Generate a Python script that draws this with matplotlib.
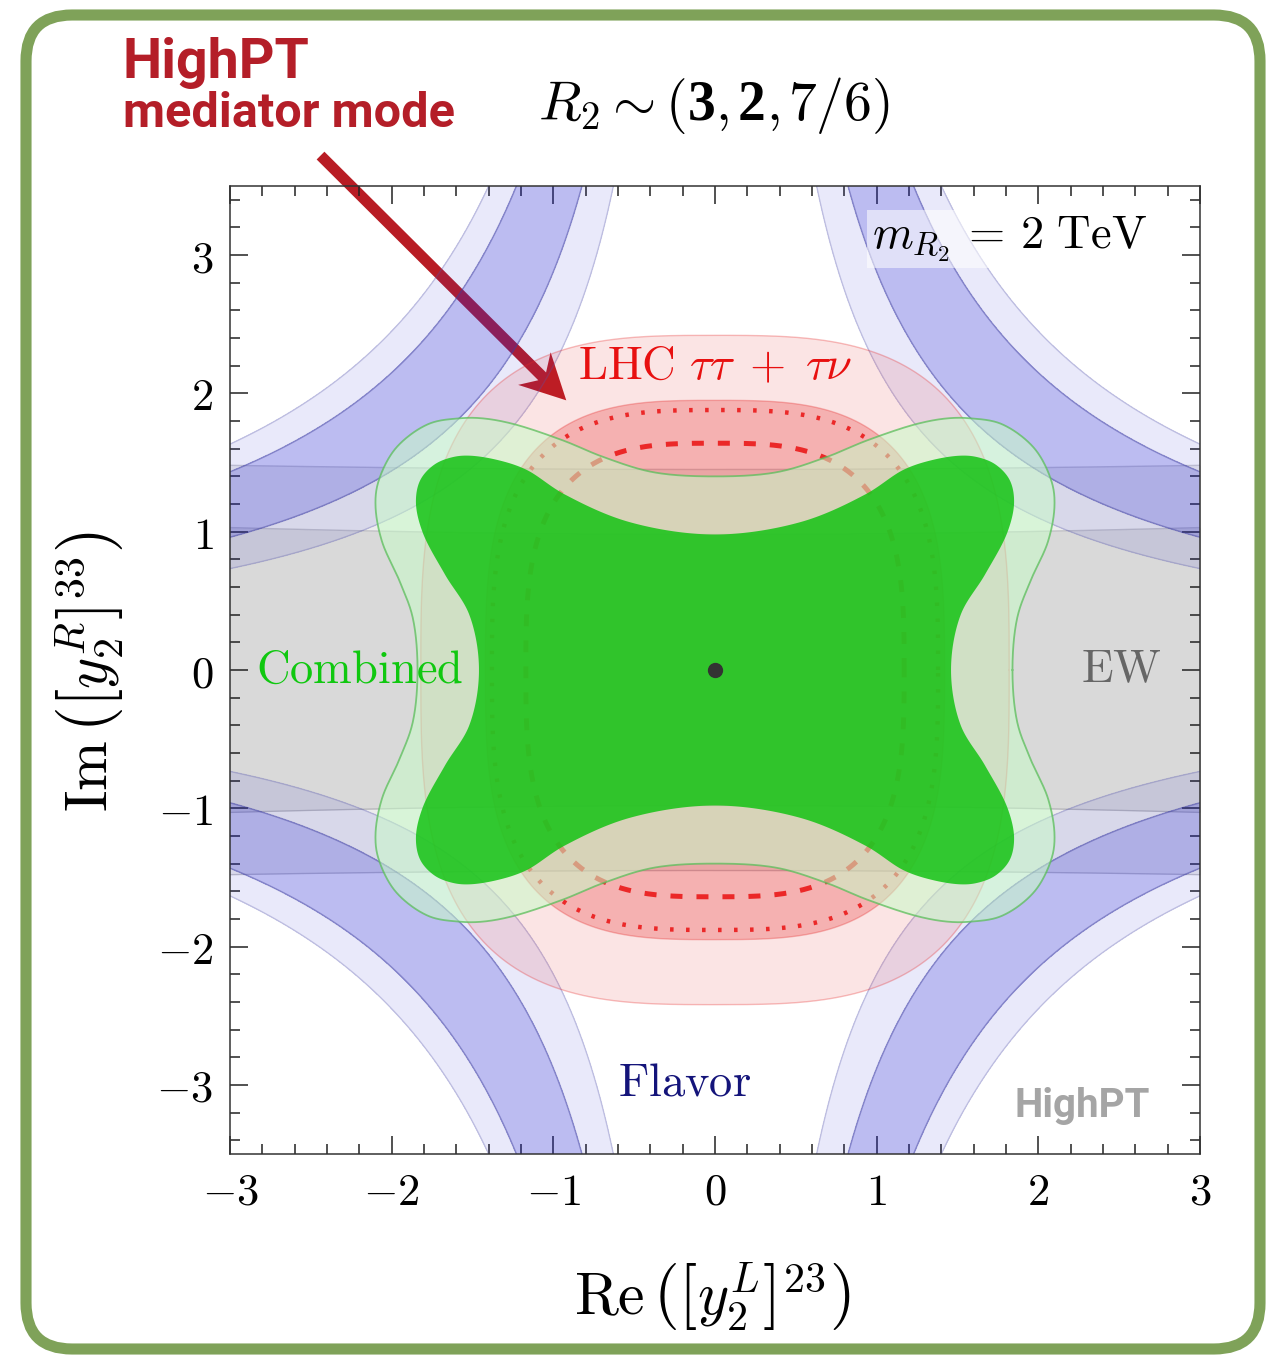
import numpy as np
import matplotlib
matplotlib.use("Agg")
import matplotlib.pyplot as plt
from matplotlib.patches import FancyBboxPatch, Polygon
from matplotlib.transforms import IdentityTransform
from matplotlib.ticker import MultipleLocator, FuncFormatter

plt.rcParams['mathtext.fontset'] = 'cm'
plt.rcParams['font.family'] = ['DejaVu Sans']

W, H, DPI = 1275, 1357, 100

# ---------------- data ----------------
x_range = (-3.0, 3.0)
y_range = (-3.5, 3.5)

# Flavor: allowed band in |Re(yL) * Im(yR)|
flavor_1sigma = (2.88, 4.30)
flavor_2sigma = (2.20, 4.90)

# EW: allowed half-width in Im(yR) at Re(yL)=0 and at |Re(yL)|=3
ew_1sigma = (0.98, 1.03)
ew_2sigma = (1.45, 1.48)

# LHC tau tau + tau nu: semi-axes of the exclusion contours
lhc_2sigma = (1.82, 2.42)
lhc_1sigma = (1.42, 1.95)
lhc_dotted = (1.38, 1.88)
lhc_dashed = (1.17, 1.64)
lhc_power = 3.1

# Combined fit contours, first quadrant (from the x axis to the y axis)
comb2_x = [1.84, 1.87, 1.95, 2.06, 2.10, 2.08, 1.97, 1.77, 1.58, 1.44, 1.25, 0.94, 0.69, 0.38, 0.00]
comb2_y = [0.00, 0.38, 0.64, 0.93, 1.19, 1.37, 1.61, 1.78, 1.82, 1.82, 1.78, 1.66, 1.54, 1.43, 1.40]
comb1_x = [1.46, 1.52, 1.67, 1.81, 1.85, 1.82, 1.73, 1.62, 1.52, 1.35, 1.17, 0.93, 0.53, 0.00]
comb1_y = [0.00, 0.40, 0.69, 1.00, 1.22, 1.38, 1.49, 1.54, 1.55, 1.52, 1.45, 1.27, 1.07, 0.98]

sm_point = (0.0, 0.0)

# arrow of the mediator-mode callout (data coordinates)
arrow_tail = (-2.44, 3.72)
arrow_tip = (-0.92, 1.95)


# ---------------- helpers ----------------
def mirror_quadrant(qx, qy):
    qx = np.asarray(qx, float)
    qy = np.asarray(qy, float)
    q1 = np.c_[qx, qy]
    q2 = np.c_[-qx[::-1], qy[::-1]][1:]
    q3 = np.c_[-qx, -qy][1:]
    q4 = np.c_[qx[::-1], -qy[::-1]][1:-1]
    return np.vstack([q1, q2, q3, q4])


def catmull_rom_closed(P, n=30, alpha=0.5):
    P = np.asarray(P, float)
    N = len(P)
    out = []
    for i in range(N):
        p0, p1, p2, p3 = P[(i - 1) % N], P[i], P[(i + 1) % N], P[(i + 2) % N]
        t0 = 0.0
        t1 = t0 + np.linalg.norm(p1 - p0) ** alpha
        t2 = t1 + np.linalg.norm(p2 - p1) ** alpha
        t3 = t2 + np.linalg.norm(p3 - p2) ** alpha
        t = np.linspace(t1, t2, n, endpoint=False)[:, None]
        A1 = (t1 - t) / (t1 - t0) * p0 + (t - t0) / (t1 - t0) * p1
        A2 = (t2 - t) / (t2 - t1) * p1 + (t - t1) / (t2 - t1) * p2
        A3 = (t3 - t) / (t3 - t2) * p2 + (t - t2) / (t3 - t2) * p3
        B1 = (t2 - t) / (t2 - t0) * A1 + (t - t0) / (t2 - t0) * A2
        B2 = (t3 - t) / (t3 - t1) * A2 + (t - t1) / (t3 - t1) * A3
        out.append((t2 - t) / (t2 - t1) * B1 + (t - t1) / (t2 - t1) * B2)
    out = np.vstack(out)
    return np.vstack([out, out[:1]])


def superellipse(ab, p, n=720):
    a, b = ab
    th = np.linspace(0, 2 * np.pi, n)
    c, s = np.cos(th), np.sin(th)
    return (a * np.sign(c) * np.abs(c) ** (2 / p),
            b * np.sign(s) * np.abs(s) ** (2 / p))


def ew_edge(widths, x):
    w0, w3 = widths
    k = (w3 ** 2 - w0 ** 2) / 9.0
    return np.sqrt(w0 ** 2 + k * x ** 2)


def text_row(fig, parts, x_center, y_base, fontsize):
    """Place text pieces side by side on one baseline (pixel coordinates)."""
    renderer = fig.canvas.get_renderer()
    items, total = [], 0.0
    for s, kw, gap in parts:
        t = fig.text(0, y_base, s, fontsize=fontsize, va='baseline', ha='left',
                     transform=IdentityTransform(), **kw)
        w = t.get_window_extent(renderer).width
        items.append((t, total))
        total += w + gap
    x0 = x_center - total / 2
    for t, off in items:
        t.set_x(x0 + off)


# ---------------- figure ----------------
fig = plt.figure(figsize=(W / DPI, H / DPI), dpi=DPI)
ax = fig.add_axes([230 / W, 1 - 1154 / H, 970 / W, 968 / H])
ax.set_xlim(*x_range)
ax.set_ylim(*y_range)

# EW band
xs = np.linspace(-3.1, 3.1, 400)
gray = (0.5, 0.5, 0.5)
for widths, a in [(ew_2sigma, 0.14), (ew_1sigma, 0.175)]:
    e = ew_edge(widths, xs)
    ax.fill_between(xs, -e, e, color=gray, alpha=a, lw=0, zorder=1)
    ax.plot(xs, e, color=(0.45, 0.45, 0.5), alpha=0.35, lw=1.0, zorder=1.1)
    ax.plot(xs, -e, color=(0.45, 0.45, 0.5), alpha=0.35, lw=1.0, zorder=1.1)

# callout arrow, laid under the translucent regions
fig.canvas.draw()
p_tail = ax.transData.transform(arrow_tail)
p_tip = ax.transData.transform(arrow_tip)
d = (p_tip - p_tail) / np.linalg.norm(p_tip - p_tail)
nrm = np.array([-d[1], d[0]])
hw_shaft, hw_head, l_head, l_notch = 5.5, 23.0, 45.0, 34.0
pts = [p_tip,
       p_tip - d * l_head + nrm * hw_head,
       p_tip - d * l_notch + nrm * hw_shaft,
       p_tail + nrm * hw_shaft,
       p_tail - nrm * hw_shaft,
       p_tip - d * l_notch - nrm * hw_shaft,
       p_tip - d * l_head - nrm * hw_head]
pts = ax.transData.inverted().transform(np.array(pts))
ax.add_patch(Polygon(pts, closed=True, fc='#B81C24', ec='none', zorder=1.5, clip_on=False))

# Flavor bands
gx = np.linspace(-3.05, 3.05, 900)
gy = np.linspace(-3.6, 3.6, 1000)
GX, GY = np.meshgrid(gx, gy)
Z = np.abs(GX * GY)
blue = (40 / 255, 40 / 255, 215 / 255)
ax.contourf(GX, GY, Z, levels=list(flavor_2sigma), colors=[blue], alpha=0.10, zorder=2)
ax.contour(GX, GY, Z, levels=list(flavor_2sigma), colors=[(0.35, 0.35, 0.65)], alpha=0.3,
           linewidths=1.0, zorder=2.1)
ax.contourf(GX, GY, Z, levels=list(flavor_1sigma), colors=[blue], alpha=0.23, zorder=2.2)
ax.contour(GX, GY, Z, levels=list(flavor_1sigma), colors=[(0.25, 0.25, 0.6)], alpha=0.45,
           linewidths=1.1, zorder=2.3)

# LHC contours
red = (230 / 255, 40 / 255, 40 / 255)
for ab, a in [(lhc_2sigma, 0.125), (lhc_1sigma, 0.27)]:
    ex, ey = superellipse(ab, lhc_power)
    ax.fill(ex, ey, color=red, alpha=a, lw=0, zorder=3)
    ax.plot(ex, ey, color=red, alpha=0.3, lw=1.0, zorder=3.1)
ex, ey = superellipse(lhc_dotted, lhc_power)
ax.plot(ex, ey, color='#EB2828', lw=3.2, linestyle=(0, (0.8, 2.8)),
        dash_capstyle='butt', zorder=3.5)
ex, ey = superellipse(lhc_dashed, lhc_power)
ax.plot(ex, ey, color='#EB2828', lw=3.6, linestyle=(0, (2.4, 2.8)),
        dash_capstyle='butt', zorder=3.5)

# Combined fit
c2 = catmull_rom_closed(mirror_quadrant(comb2_x, comb2_y))
ax.fill(c2[:, 0], c2[:, 1], color=(200 / 255, 250 / 255, 200 / 255), alpha=0.55, lw=0, zorder=4)
ax.plot(c2[:, 0], c2[:, 1], color=(90 / 255, 190 / 255, 90 / 255), alpha=0.75, lw=1.3, zorder=4.1)
c1 = catmull_rom_closed(mirror_quadrant(comb1_x, comb1_y))
ax.fill(c1[:, 0], c1[:, 1], color=(20 / 255, 195 / 255, 20 / 255), alpha=0.85, lw=0, zorder=5)

ax.plot(*sm_point, 'o', color='#333333', ms=10, zorder=6)

# region labels
ax.text(-2.84, -0.09, r'$\mathrm{Combined}$', color='#10C810', fontsize=33.5, zorder=7)
ax.text(2.76, -0.09, r'$\mathrm{EW}$', color='#666666', fontsize=33.5, ha='right', zorder=7)
ax.text(-0.19, -3.08, r'$\mathrm{Flavor}$', color='#14147A', fontsize=33.5, ha='center', zorder=7)
ax.text(-0.85, 2.10, r'$\mathrm{LHC}\ \tau\tau\;+\;\tau\nu$', color='#E81010', fontsize=33.5,
        zorder=7)
ax.text(2.67, 3.05, r'$m_{R_2}\,=\,2\ \mathrm{TeV}$', color='black', fontsize=33.5, ha='right',
        zorder=7, bbox=dict(boxstyle='square,pad=0.1', fc='white', ec='none', alpha=0.55))
ax.text(2.69, -3.23, 'HighPT', color='#A5A5A5', fontsize=29, fontweight='bold',
        family='Roboto', ha='right', zorder=7)

# axes styling
ax.xaxis.set_major_locator(MultipleLocator(1))
ax.yaxis.set_major_locator(MultipleLocator(1))
ax.xaxis.set_minor_locator(MultipleLocator(0.2))
ax.yaxis.set_minor_locator(MultipleLocator(0.2))
fmt = FuncFormatter(lambda v, pos: r'$%d$' % round(v))
ax.xaxis.set_major_formatter(fmt)
ax.yaxis.set_major_formatter(fmt)
ax.tick_params(which='both', direction='in', top=True, right=True, width=1.1, labelsize=32,
               color='#222222')
ax.tick_params(which='major', length=13, pad=12)
ax.tick_params(which='minor', length=7)
for s in ax.spines.values():
    s.set_linewidth(1.1)
    s.set_color('#333333')

fig.text(712 / W, 1 - 1297 / H, r'$\mathrm{Re}\,\left(\left[y_2^L\right]^{23}\right)$',
         fontsize=43, ha='center', va='center')
fig.text(90 / W, 1 - 672 / H, r'$\mathrm{Im}\,\left(\left[y_2^R\right]^{33}\right)$',
         fontsize=43, ha='center', va='center', rotation=90)

# title with bold representation dimensions
bold = dict(family='Liberation Serif', fontweight='bold')
text_row(fig, [(r'$R_2\sim($', {}, 1),
               ('3', bold, 0),
               (r'$,$', {}, 9),
               ('2', bold, 0),
               (r'$,$', {}, 9),
               (r'$7/6)$', {}, 0)],
         x_center=714, y_base=H - 120, fontsize=40)

fig.text(123 / W, 1 - 78 / H, 'HighPT', color='#B41E28', fontsize=40, fontweight='bold',
         family='Roboto')
fig.text(123 / W, 1 - 127 / H, 'mediator mode', color='#B41E28', fontsize=35,
         fontweight='bold', family='Roboto')

# rounded frame
frame = FancyBboxPatch((26, 8), 1234, 1334, boxstyle='round,pad=0,rounding_size=46',
                       transform=IdentityTransform(), fc='none', ec='#7FA259', lw=8)
fig.add_artist(frame)

fig.savefig('out.png', dpi=DPI)
